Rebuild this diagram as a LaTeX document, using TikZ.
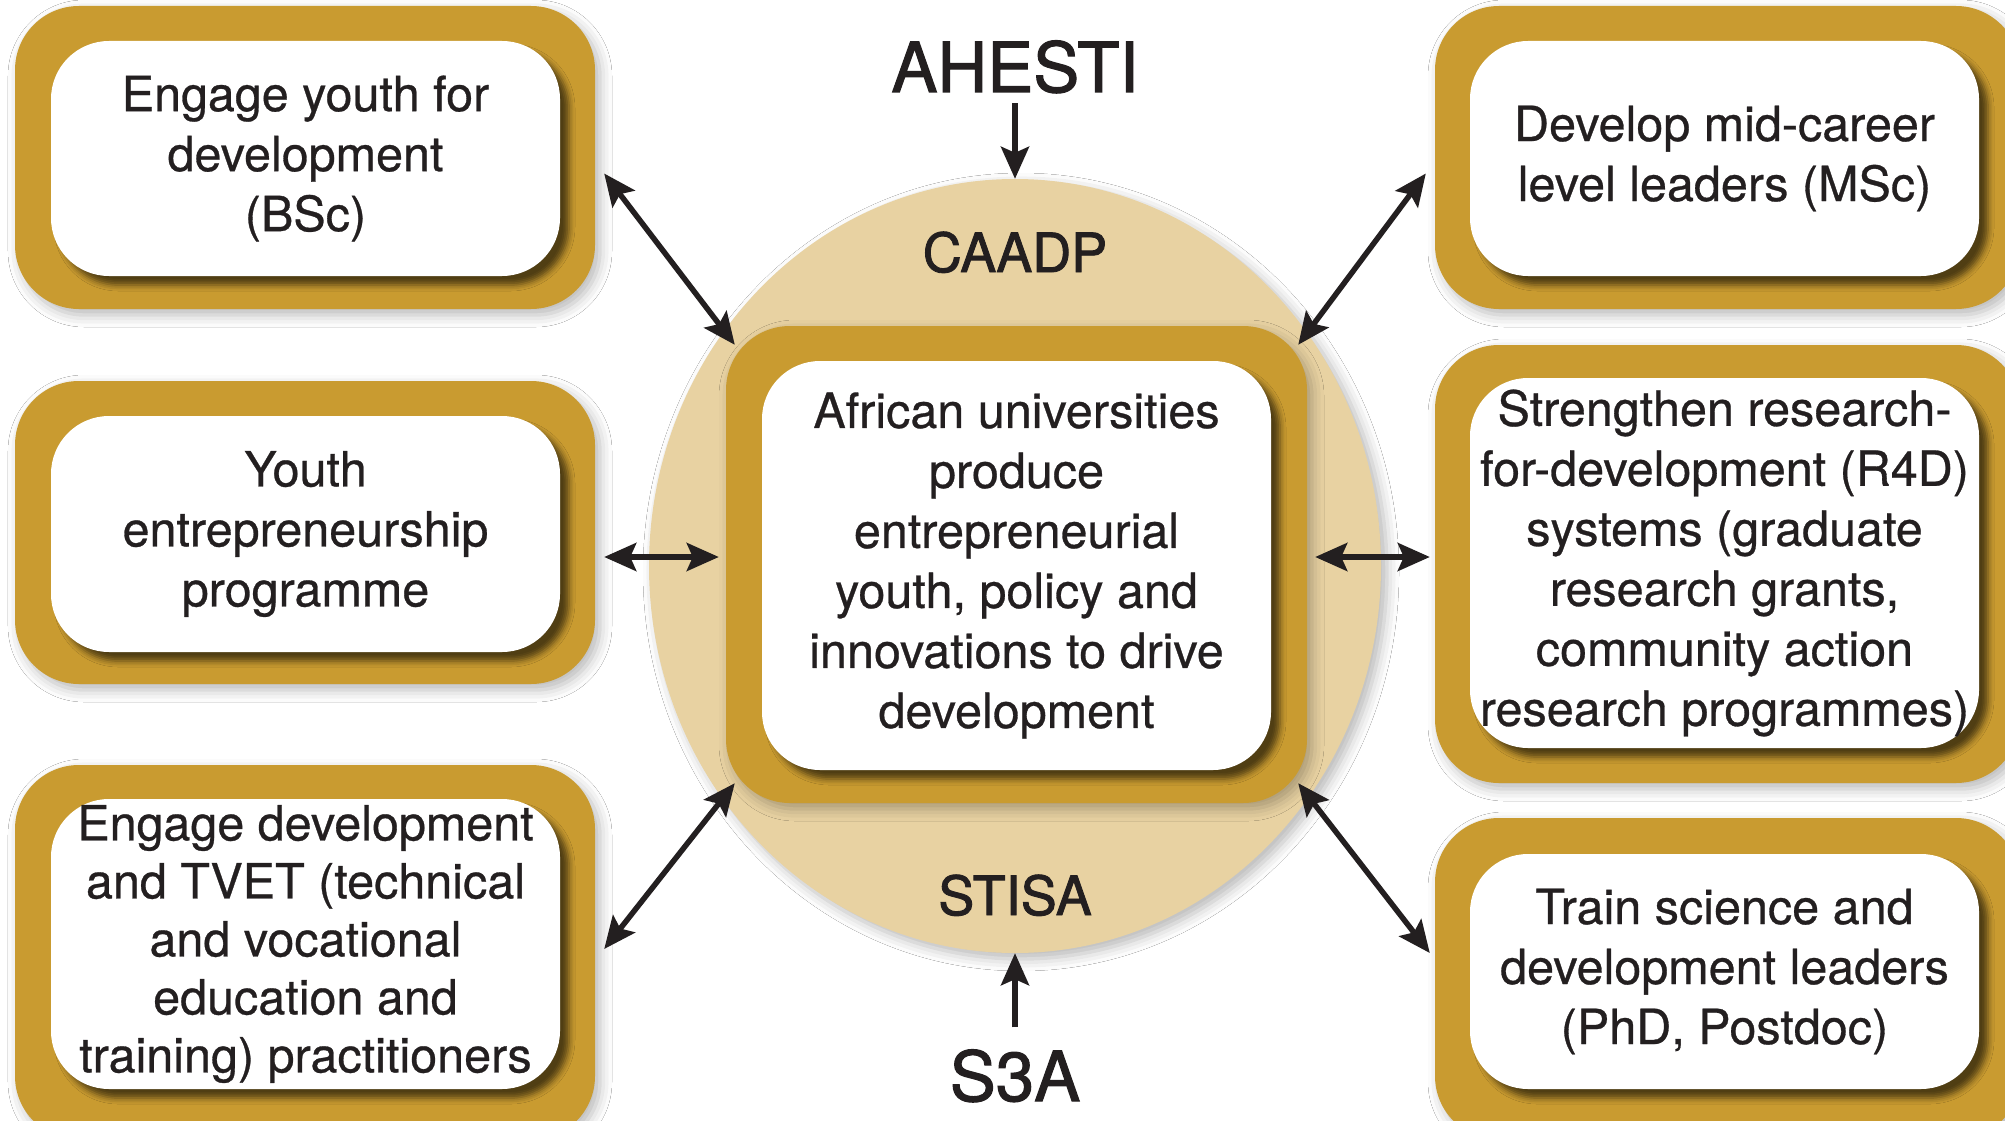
\documentclass[tikz,border=0pt]{standalone}
\usepackage{fontspec}
\setmainfont{TeX Gyre Heros}[FakeBold=0.6]
\newfontfamily\headfont{TeX Gyre Heros}[FakeBold=1.6]
\usetikzlibrary{arrows.meta,shapes.geometric,shadows.blur}
\definecolor{boxgold}{RGB}{201,155,48}
\definecolor{ringtan}{RGB}{232,210,162}
\definecolor{ink}{RGB}{35,31,32}
\tikzset{
  outerbox/.style={fill=boxgold, rounded corners=64pt, inner sep=0pt,
    blur shadow={shadow xshift=5pt, shadow yshift=-6pt, shadow blur radius=12pt, shadow opacity=28}},
  innerbox/.style={fill=white, rounded corners=58pt, inner sep=0pt, align=center, text=ink,
    font=\fontsize{48.5}{60}\selectfont,
    blur shadow={shadow xshift=9pt, shadow yshift=-9pt, shadow blur radius=6pt, shadow opacity=60}},
  tip/.tip={Stealth[length=32pt,width=28pt,inset=6pt]},
  biarrow/.style={draw=ink, line width=5.5pt, tip-tip},
  onearrow/.style={draw=ink, line width=5.5pt, -tip},
  biglabel/.style={text=ink, inner sep=0pt, anchor=base, font=\headfont\fontsize{69}{72}\selectfont},
  ringlabel/.style={text=ink, inner sep=0pt, anchor=base, font=\headfont\fontsize{54}{60}\selectfont},
}
\begin{document}
\begin{tikzpicture}[x=1pt,y=-1pt]
\useasboundingbox (0,0) rectangle (2005,1121);
\fill[white] (0,0) rectangle (2005,1121);

% central ring
\node[ellipse, fill=ringtan, inner sep=0pt, minimum width=732pt, minimum height=774pt,
  blur shadow={shadow xshift=6pt, shadow yshift=-6pt, shadow blur radius=12pt, shadow opacity=28}]
  (ell) at (1015,566) {};
\node[ringlabel] (caadp) at (1015,272) {CAADP};
\node[ringlabel] (stisa) at (1015,915) {STISA};

% centre box
\node[outerbox, minimum width=581pt, minimum height=477pt] (co) at (1016.5,564.5) {};
\node[innerbox, minimum width=509pt, minimum height=409pt] (ci) at (1016.5,565.5)
  {African universities\\produce\\entrepreneurial\\youth, policy and\\innovations to drive\\development};

% left boxes
\node[outerbox, minimum width=580pt, minimum height=303pt] (tlo) at (305,157.5) {};
\node[innerbox, minimum width=509pt, minimum height=235pt] (tli) at (305.5,158.5)
  {Engage youth for\\development\\(BSc)};
\node[outerbox, minimum width=580pt, minimum height=303pt] (mlo) at (305,532.5) {};
\node[innerbox, minimum width=509pt, minimum height=236pt] (mli) at (305.5,534)
  {Youth\\entrepreneurship\\programme};
\node[outerbox, minimum width=580pt, minimum height=375pt] (blo) at (305,952.5) {};
\node[innerbox, minimum width=509pt, minimum height=290pt, font=\fontsize{48.5}{58}\selectfont] (bli) at (305.5,944)
  {Engage development\\and TVET (technical\\and vocational\\education and\\training) practitioners};

% right boxes
\node[outerbox, minimum width=585pt, minimum height=303pt] (tro) at (1727.5,157.5) {};
\node[innerbox, minimum width=509pt, minimum height=235pt] (tri) at (1724.5,158.5)
  {Develop mid-career\\level leaders (MSc)};
\node[outerbox, minimum width=585pt, minimum height=438pt] (mro) at (1727.5,564) {};
\node[innerbox, minimum width=509pt, minimum height=370pt] (mri) at (1724.5,563)
  {Strengthen research-\\for-development (R4D)\\systems (graduate\\research grants,\\community action\\research programmes)};
\node[outerbox, minimum width=585pt, minimum height=322pt] (bro) at (1727.5,979) {};
\node[innerbox, minimum width=509pt, minimum height=235pt] (bri) at (1724.5,971.5)
  {Train science and\\development leaders\\(PhD, Postdoc)};

% top and bottom labels
\node[biglabel] (ahesti) at (1015,92) {AHESTI};
\node[biglabel] (s3a) at (1015,1101) {S3A};
\draw[onearrow] ([yshift=-10pt]ahesti.south) -- (ell.north);
\draw[onearrow] ([yshift=22pt]s3a.north) -- (ell.south);

% connectors
\draw[biarrow] ([shift={(9,16)}]tlo.east) -- ([shift={(9,19)}]co.north west);
\draw[biarrow] ([shift={(-9,16)}]tro.west) -- ([shift={(-9,19)}]co.north east);
\draw[biarrow] ([shift={(9,24.5)}]mlo.east) -- ([shift={(-7,-7.5)}]co.west);
\draw[biarrow] ([shift={(-5,-7)}]mro.west) -- ([shift={(8,-7.5)}]co.east);
\draw[biarrow] ([shift={(9,-3.5)}]blo.east) -- ([shift={(9,-20)}]co.south west);
\draw[biarrow] ([shift={(-5,-26)}]bro.west) -- ([shift={(-9,-20)}]co.south east);
\end{tikzpicture}
\end{document}
